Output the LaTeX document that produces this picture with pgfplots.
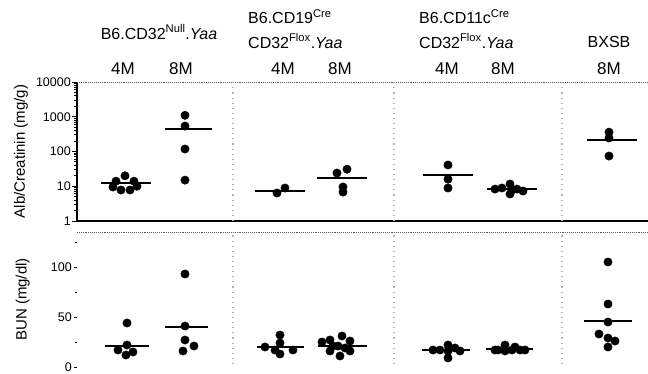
\documentclass[border=0pt]{standalone}
\usepackage{pgfplots}
\pgfplotsset{compat=1.18}
\usepackage{fontspec}
\setmainfont{Liberation Sans}
\begin{document}
\begin{tikzpicture}
\useasboundingbox (0pt,0pt) rectangle (648pt,373pt);
% ---------- TOP PANEL ----------
\begin{axis}[
  at={(77pt,152pt)}, anchor=south west,
  scale only axis, width=571pt, height=139pt,
  xmin=77, xmax=648, ymode=log, ymin=1, ymax=10000,
  axis x line*=bottom, axis y line*=left,
  axis line style={line width=1.3pt, -},
  xtick=\empty,
  ytick={1,10,100,1000,10000},
  yticklabels={1,10,100,1000,10000},
  tick align=outside, major tick length=5pt,
  tick style={line width=1pt, black},
  yticklabel style={font=\fontsize{12.5}{14}\selectfont, inner sep=1pt},
  /pgf/number format/assume math mode=true,
  ylabel={Alb/Creatinin (mg/g)},
  ylabel style={font=\fontsize{15}{17}\selectfont, at={(axis description cs:-0.098,0.5)}, anchor=center},
  clip=false,
]
\draw[gray!70!black, densely dotted, line width=0.9pt] (axis description cs:0,1) -- (axis description cs:1,1);
\draw[gray!60, loosely dotted, line width=1.1pt] (axis cs:233,1) -- (axis cs:233,10000);
\draw[gray!60, loosely dotted, line width=1.1pt] (axis cs:394,1) -- (axis cs:394,10000);
\draw[gray!60, loosely dotted, line width=1.1pt] (axis cs:562,1) -- (axis cs:562,10000);
% means
\addplot[black, line width=1.6pt] coordinates {(101,12.5) (151,12.5)};
\addplot[black, line width=1.6pt] coordinates {(165,445) (212,445)};
\addplot[black, line width=1.6pt] coordinates {(255,7.3) (305,7.3)};
\addplot[black, line width=1.6pt] coordinates {(317,17) (367,17)};
\addplot[black, line width=1.6pt] coordinates {(423,21) (473,21)};
\addplot[black, line width=1.6pt] coordinates {(487,8.3) (537,8.3)};
\addplot[black, line width=1.6pt] coordinates {(587,214) (637,214)};
% points
\addplot[black, only marks, mark=*, mark size=4.2pt] coordinates {
 (125,20) (116,14) (134,14) (113,9.5) (137,10) (121,7.8) (130,7.8)
 (185,1100) (185,540) (185,118) (185,15)
 (277,6.4) (285,8.9)
 (337,24) (347,31) (343,9.5) (343,6.8)
 (448,41) (448,16) (448,8.9)
 (495,8.3) (502,8.9) (510,11.6) (510,6) (517,8.3) (523,7.3) (512,7.8)
 (609,360) (609,245) (609,74)
};
\end{axis}
% ---------- BOTTOM PANEL ----------
\begin{axis}[
  at={(77pt,6pt)}, anchor=south west,
  scale only axis, width=571pt, height=135pt,
  xmin=77, xmax=648, ymin=0, ymax=135,
  hide x axis,
  axis y line*=left,
  y axis line style={draw=none},
  ytick={0,50,100}, minor ytick={25,75,125},
  tick align=outside, major tick length=3pt, minor tick length=1.5pt,
  tick style={line width=0.9pt, black},
  yticklabel style={font=\fontsize{12.5}{14}\selectfont, inner sep=2pt},
  /pgf/number format/assume math mode=true,
  ylabel={BUN (mg/dl)},
  ylabel style={font=\fontsize{15}{17}\selectfont, at={(axis description cs:-0.095,0.5)}, anchor=center},
  clip=false,
]
\draw[gray!70!black, densely dotted, line width=0.9pt] (axis description cs:0,1) -- (axis description cs:1,1);
\draw[gray!60, loosely dotted, line width=1.1pt] (axis cs:233,3) -- (axis cs:233,135);
\draw[gray!60, loosely dotted, line width=1.1pt] (axis cs:394,3) -- (axis cs:394,135);
\draw[gray!60, loosely dotted, line width=1.1pt] (axis cs:562,3) -- (axis cs:562,135);
\addplot[black, line width=1.6pt] coordinates {(105,21) (149,21)};
\addplot[black, line width=1.6pt] coordinates {(165,40) (208,40)};
\addplot[black, line width=1.6pt] coordinates {(257,20) (304,20)};
\addplot[black, line width=1.6pt] coordinates {(318,21) (367,21)};
\addplot[black, line width=1.6pt] coordinates {(422,17) (470,17)};
\addplot[black, line width=1.6pt] coordinates {(486,18) (533,18)};
\addplot[black, line width=1.6pt] coordinates {(584,46) (632,46)};
\addplot[black, only marks, mark=*, mark size=4.2pt] coordinates {
 (127,44) (118,17) (127,22) (126,12) (133,15)
 (185,93) (185,41) (185,27) (183,16) (194,21)
 (280,32) (280,24) (265,20) (275,17) (280,13) (293,17)
 (322,25) (330,27) (342,31) (350,26) (330,16) (338,21) (345,19) (350,16) (340,11) (333,21)
 (448,22) (448,16) (440,17) (460,16) (448,9) (433,17) (455,19)
 (505,22) (498,17) (512,17) (520,17) (505,16) (525,17) (495,17) (515,20)
 (608,105) (608,63) (608,45) (599,33) (608,29) (615,26) (608,20)
};
\end{axis}
% ---------- HEADERS ----------
\begin{scope}[every node/.style={font=\fontsize{16}{19}\selectfont, inner sep=0pt}]
\node at (159pt,341pt) {B6.CD32\textsuperscript{Null}.\textit{Yaa}};
\node[anchor=west] at (248pt,356pt) {B6.CD19\textsuperscript{Cre}};
\node[anchor=west] at (248pt,332pt) {CD32\textsuperscript{Flox}.\textit{Yaa}};
\node[anchor=west] at (419pt,356pt) {B6.CD11c\textsuperscript{Cre}};
\node[anchor=west] at (419pt,332pt) {CD32\textsuperscript{Flox}.\textit{Yaa}};
\node at (609pt,331pt) {BXSB};
\end{scope}
\begin{scope}[every node/.style={font=\fontsize{17}{19}\selectfont, inner sep=0pt}]
\node at (123pt,304pt) {4M};
\node at (181pt,304pt) {8M};
\node at (283pt,304pt) {4M};
\node at (340pt,304pt) {8M};
\node at (447pt,304pt) {4M};
\node at (503pt,304pt) {8M};
\node at (609pt,304pt) {8M};
\end{scope}
\end{tikzpicture}
\end{document}
